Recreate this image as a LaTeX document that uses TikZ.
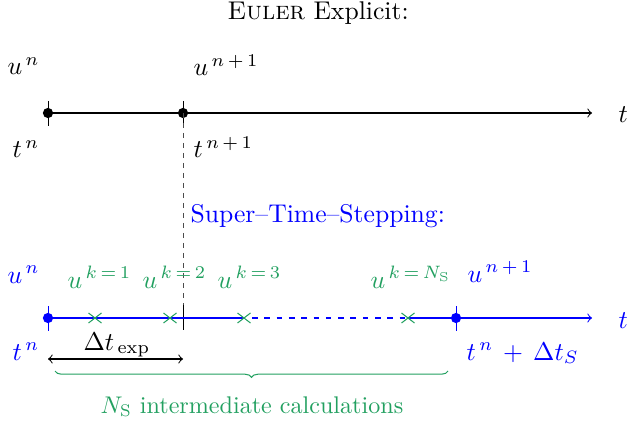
\documentclass[tikz,border=0pt]{standalone}
\usetikzlibrary{decorations.pathreplacing}
\definecolor{stsgreen}{RGB}{34,160,96}
\begin{document}
\begin{tikzpicture}[x=0.39pt,y=-0.39pt,
  lbl/.style={inner sep=0pt,anchor=base west},
  axis/.style={thin,->},
  dotm/.style={circle,fill,inner sep=0pt,minimum size=4pt},
  crossm/.style={stsgreen,thin},
  tickm/.style={line width=0.35pt}]
\useasboundingbox (0,0) rectangle (628,423);
% title
\node[lbl,anchor=base] (title) at (318,20) {\textsc{Euler} Explicit:};
% top axis
\coordinate (a0) at (48,113);
\coordinate (a1) at (183,113);
\coordinate (aend) at (592,113);
\draw[axis] (a0) -- (aend);
\node[lbl] (tt) at (618,123) {$t$};
\draw[tickm] (48,101) -- (48,126);
\draw[tickm] (183,101) -- (183,126);
\node[dotm] (d0) at (a0) {};
\node[dotm] (d1) at (a1) {};
\node[lbl] (un) at (7,75) {$u^{\,n}$};
\node[lbl] (un1) at (193,76) {$u^{\,n\,+\,1}$};
\node[lbl] (tn) at (12,158) {$t^{\,n}$};
\node[lbl] (tn1) at (193,158) {$t^{\,n\,+\,1}$};
% dashed link
\coordinate (b1) at (183,318);
\draw[black!70,line width=0.35pt,dash pattern=on 2pt off 1.9pt] (a1) -- (183,305);
\draw[tickm] (183,305) -- (183,330);
\node[lbl,blue] (sts) at (190,223) {Super--Time--Stepping:};
% bottom axis
\coordinate (b0) at (48,318);
\coordinate (c3) at (244,318);
\coordinate (cN) at (408,318);
\coordinate (b2) at (456,318);
\coordinate (bend) at (592,318);
\draw[blue,thin] (b0) -- (c3);
\draw[blue,thin,dash pattern=on 2.2pt off 2.6pt] (c3) ++(8,0) -- (cN);
\draw[blue,axis] (cN) -- (bend);
\node[lbl,blue] (tb) at (618,328) {$t$};
\draw[blue,tickm] (48,306) -- (48,331);
\draw[blue,tickm] (456,306) -- (456,331);
\node[dotm,blue] (e0) at (b0) {};
\node[dotm,blue] (e1) at (b2) {};
% crosses
\foreach \xx/\nm in {95/k1,170/k2,244/k3,408/kN}{
  \draw[crossm] (\xx-6.5,313) -- (\xx+6.5,323) (\xx-6.5,323) -- (\xx+6.5,313);
}
\node[lbl,blue] (bun) at (7,283) {$u^{\,n}$};
\node[lbl,stsgreen] (uk1) at (67,288) {$u^{\,k\,=\,1}$};
\node[lbl,stsgreen] (uk2) at (142,288) {$u^{\,k\,=\,2}$};
\node[lbl,stsgreen] (uk3) at (217,288) {$u^{\,k\,=\,3}$};
\node[lbl,stsgreen] (ukN) at (370,288) {$u^{\,k\,=\,N_{\mathrm{S}}}$};
\node[lbl,blue] (bun1) at (467,282) {$u^{\,n\,+\,1}$};
\node[lbl,blue] (btn) at (12,360) {$t^{\,n}$};
\node[lbl,blue] (btnd) at (466,360) {$t^{\,n}\,+\,\Delta t_S$};
% delta t exp
\node[lbl] (dte) at (83,350) {$\Delta t_{\,\mathrm{exp}}$};
\coordinate (p0) at (48,359);
\coordinate (p1) at (183,359);
\draw[thin,<->] (p0) -- (p1);
% brace
\coordinate (q0) at (55,371);
\coordinate (q1) at (448,371);
\draw[stsgreen,thin,decorate,decoration={brace,mirror,amplitude=2.5pt}] (q0) -- (q1);
\node[lbl,stsgreen,anchor=base,scale=0.94] (ns) at (252,413) {$N_{\mathrm{S}}$ intermediate calculations};
\end{tikzpicture}
\end{document}
